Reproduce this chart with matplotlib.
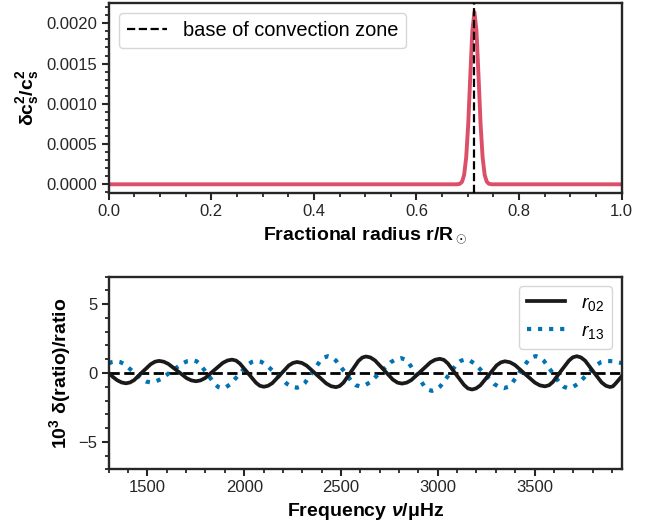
import matplotlib
matplotlib.use("Agg")
import matplotlib.pyplot as plt
from matplotlib.ticker import MultipleLocator

# --- top panel: sound-speed perturbation (fractional radius, dc^2/c^2)
radius = [0.0, 0.677, 0.681, 0.685, 0.689, 0.693, 0.697, 0.701, 0.705, 0.709, 0.713,
          0.717, 0.721, 0.725, 0.729, 0.733, 0.737, 0.741, 0.745, 0.749, 1.0]
dc2 = [0.0, 0.0, 0.0000013, 0.0000073, 0.000033, 0.000118, 0.000334, 0.000753, 0.00135,
       0.00191, 0.00214, 0.00191, 0.00135, 0.000753, 0.000334, 0.000118, 0.000033,
       0.0000073, 0.0000013, 0.0, 0.0]
r_cz = 0.713

# --- bottom panel: relative ratio differences (x 10^3)
freq_r02 = [1300, 1322, 1344, 1367, 1389, 1410, 1432, 1474, 1517, 1539, 1560, 1584,
            1608, 1656, 1703, 1727, 1751, 1774, 1798, 1844, 1890, 1914, 1937, 1958,
            1978, 2020, 2061, 2081, 2102, 2123, 2145, 2188, 2230, 2252, 2273, 2298,
            2323, 2374, 2424, 2449, 2474, 2493, 2513, 2552, 2590, 2610, 2629, 2652,
            2676, 2722, 2768, 2792, 2815, 2840, 2864, 2913, 2962, 2986, 3011, 3032,
            3052, 3094, 3136, 3156, 3177, 3198, 3220, 3262, 3304, 3326, 3347, 3373,
            3399, 3450, 3502, 3528, 3554, 3575, 3595, 3636, 3678, 3698, 3719, 3740,
            3762, 3804, 3847, 3869, 3890, 3905, 3920, 3950]
r02 = [0.0, -0.29, -0.53, -0.69, -0.75, -0.69, -0.51, 0.07, 0.64, 0.82, 0.88, 0.82,
       0.66, 0.14, -0.38, -0.54, -0.60, -0.54, -0.37, 0.19, 0.74, 0.91, 0.97, 0.90,
       0.68, -0.02, -0.71, -0.93, -1.00, -0.93, -0.74, -0.10, 0.54, 0.73, 0.80, 0.73,
       0.53, -0.12, -0.76, -0.96, -1.03, -0.95, -0.70, 0.09, 0.87, 1.12, 1.20, 1.13,
       0.91, 0.22, -0.48, -0.70, -0.77, -0.70, -0.51, 0.13, 0.77, 0.96, 1.03, 0.95,
       0.70, -0.09, -0.87, -1.12, -1.20, -1.12, -0.90, -0.18, 0.55, 0.77, 0.85, 0.78,
       0.58, -0.06, -0.70, -0.90, -0.97, -0.89, -0.65, 0.13, 0.90, 1.14, 1.22, 1.13,
       0.89, 0.10, -0.69, -0.93, -1.02, -0.97, -0.75, -0.25]

freq_r13 = [1300, 1320, 1338, 1360, 1382, 1426, 1471, 1493, 1515, 1542, 1570, 1625,
            1680, 1708, 1735, 1754, 1772, 1810, 1848, 1866, 1885, 1907, 1929, 1973,
            2017, 2039, 2061, 2088, 2114, 2167, 2220, 2246, 2273, 2293, 2313, 2353,
            2393, 2413, 2433, 2454, 2474, 2516, 2557, 2577, 2598, 2624, 2651, 2704,
            2757, 2784, 2810, 2830, 2850, 2890, 2930, 2950, 2970, 2991, 3013, 3056,
            3098, 3120, 3141, 3166, 3191, 3242, 3292, 3317, 3342, 3363, 3383, 3424,
            3466, 3486, 3507, 3528, 3548, 3590, 3632, 3652, 3673, 3698, 3722, 3772,
            3821, 3845, 3870, 3910, 3950]
r13 = [0.70, 0.81, 0.85, 0.79, 0.63, 0.09, -0.46, -0.62, -0.68, -0.62, -0.44, 0.13,
       0.69, 0.87, 0.93, 0.85, 0.63, -0.09, -0.80, -1.02, -1.10, -1.02, -0.81, -0.11,
       0.59, 0.80, 0.88, 0.81, 0.59, -0.10, -0.78, -1.00, -1.07, -0.98, -0.73, 0.08,
       0.88, 1.13, 1.22, 1.14, 0.90, 0.13, -0.65, -0.89, -0.97, -0.89, -0.67, 0.06,
       0.78, 1.00, 1.08, 0.99, 0.73, -0.11, -0.95, -1.21, -1.30, -1.21, -0.97, -0.16,
       0.65, 0.89, 0.98, 0.90, 0.68, -0.06, -0.80, -1.02, -1.10, -1.01, -0.76, 0.07,
       0.89, 1.14, 1.23, 1.14, 0.89, 0.07, -0.76, -1.01, -1.10, -1.02, -0.81, -0.11,
       0.59, 0.80, 0.88, 0.85, 0.72]

RED = "#dc4f68"
BLUE = "#0173b2"
INK = "#1a1a1a"


def configure_matplotlib() -> None:
    plt.rcParams["font.family"] = ["Liberation Sans", "DejaVu Sans"]
    plt.rcParams["mathtext.fontset"] = "custom"
    plt.rcParams["mathtext.rm"] = "Liberation Sans"
    plt.rcParams["mathtext.it"] = "Liberation Sans:italic"
    plt.rcParams["mathtext.bf"] = "Liberation Sans:bold"
    plt.rcParams["mathtext.bfit"] = "Liberation Sans:italic:bold"
    plt.rcParams["axes.unicode_minus"] = True
    plt.rcParams["axes.edgecolor"] = "0.15"
    plt.rcParams["axes.linewidth"] = 1.7
    plt.rcParams["xtick.color"] = "0.15"
    plt.rcParams["ytick.color"] = "0.15"
    plt.rcParams["xtick.labelsize"] = 12
    plt.rcParams["ytick.labelsize"] = 12
    plt.rcParams["xtick.major.size"] = 5
    plt.rcParams["ytick.major.size"] = 5
    plt.rcParams["xtick.minor.size"] = 3
    plt.rcParams["ytick.minor.size"] = 3
    plt.rcParams["xtick.major.width"] = 1.5
    plt.rcParams["ytick.major.width"] = 1.5
    plt.rcParams["xtick.minor.width"] = 1.3
    plt.rcParams["ytick.minor.width"] = 1.3
    plt.rcParams["xtick.major.pad"] = 3
    plt.rcParams["ytick.major.pad"] = 3
    plt.rcParams["axes.labelsize"] = 14
    plt.rcParams["axes.labelweight"] = "bold"
    plt.rcParams["legend.edgecolor"] = "0.8"
    plt.rcParams["legend.framealpha"] = 0.8


def main() -> None:
    configure_matplotlib()
    fig = plt.figure(figsize=(6.55, 5.30), dpi=100)
    ax1 = fig.add_axes([0.166, 0.636, 0.783, 0.358])
    ax2 = fig.add_axes([0.166, 0.1145, 0.783, 0.3635])

    # top panel
    ax1.plot(radius, dc2, color=RED, lw=2.8, zorder=2)
    ax1.axvline(r_cz, color="k", ls="--", lw=1.6, label="base of convection zone", zorder=3)
    ax1.set_xlim(0.0, 1.0)
    ax1.set_ylim(-0.000107, 0.00225)
    ax1.xaxis.set_major_locator(MultipleLocator(0.2))
    ax1.xaxis.set_minor_locator(MultipleLocator(0.05))
    ax1.yaxis.set_major_locator(MultipleLocator(0.0005))
    ax1.yaxis.set_minor_locator(MultipleLocator(0.0001))
    ax1.yaxis.set_major_formatter(plt.FormatStrFormatter("%.4f"))
    ax1.set_xlabel(r"Fractional radius r/R$_\odot$")
    ax1.set_ylabel(r"$\mathbf{\delta c_s^2/c_s^2}$")
    ax1.legend(loc="upper left", fontsize=14.4)

    # bottom panel
    ax2.axhline(0.0, color="k", ls="--", lw=2.0, zorder=1)
    ax2.plot(freq_r02, r02, color=INK, lw=2.7, label=r"$r_{02}$", zorder=3)
    ax2.plot(freq_r13, r13, color=BLUE, lw=3.0, ls=":", label=r"$r_{13}$", zorder=2)
    ax2.set_xlim(1300, 3950)
    ax2.set_ylim(-7, 7)
    ax2.xaxis.set_major_locator(MultipleLocator(500))
    ax2.xaxis.set_minor_locator(MultipleLocator(100))
    ax2.yaxis.set_major_locator(MultipleLocator(5))
    ax2.yaxis.set_minor_locator(MultipleLocator(1))
    ax2.set_xlabel(r"Frequency $\mathbfit{\nu}$/μHz")
    ax2.set_ylabel(r"$\mathbf{10^3}$ δ(ratio)/ratio")
    ax2.legend(loc="upper right", fontsize=14)

    fig.savefig("out.png", dpi=100)
    plt.close(fig)


if __name__ == "__main__":
    main()
